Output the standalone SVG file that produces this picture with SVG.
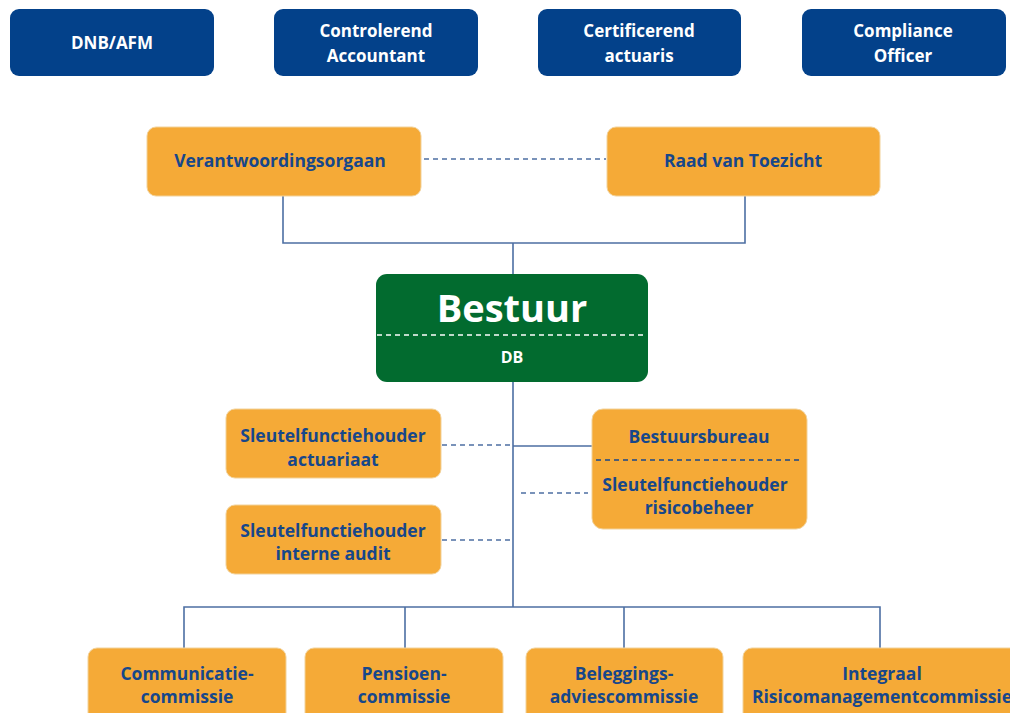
<svg xmlns="http://www.w3.org/2000/svg" width="1010" height="713" viewBox="0 0 1010 713">
<style>
.blue{fill:#03418A}
.org{fill:#F5AA37;stroke:#F2D29A;stroke-width:1}
.green{fill:#026B2F}
text{font-family:"Open Sans","Liberation Sans",sans-serif;font-weight:700;text-anchor:middle}
.wt{fill:#FFFFFF;font-size:17px}
.bt{fill:#17478A;font-size:17.5px}
.c{fill:none;stroke:#4D6FA3;stroke-width:1.6}
.d{fill:none;stroke:#4D6FA3;stroke-width:1.4;stroke-dasharray:5,4}
</style>
<rect width="1010" height="713" fill="#FFFFFF"/>
<g id="connectors">
<path class="c" d="M283 196V243H745V196M513 243V274M513 382V607M184 648V607H880V648M405 607V648M624 607V648M513 446H592"/>
<path class="d" d="M424 159H606M442 445H513M442 540H513M521 493H588"/>
</g>
<g id="dnb"><rect class="blue" x="10" y="9" width="204" height="67" rx="9"/><text class="wt" x="112" y="49">DNB/AFM</text></g>
<g id="accountant"><rect class="blue" x="274" y="9" width="204" height="67" rx="9"/><text class="wt" x="376" y="37">Controlerend</text><text class="wt" x="376" y="62">Accountant</text></g>
<g id="actuaris"><rect class="blue" x="538" y="9" width="203" height="67" rx="9"/><text class="wt" x="639" y="37">Certificerend</text><text class="wt" x="639" y="62">actuaris</text></g>
<g id="compliance"><rect class="blue" x="802" y="9" width="204" height="67" rx="9"/><text class="wt" x="903" y="37">Compliance</text><text class="wt" x="903" y="62">Officer</text></g>
<g id="vo"><rect class="org" x="147" y="127" width="274" height="69" rx="9"/><text class="bt" x="280" y="167">Verantwoordingsorgaan</text></g>
<g id="rvt"><rect class="org" x="607" y="127" width="273" height="69" rx="9"/><text class="bt" x="743" y="167">Raad van Toezicht</text></g>
<g id="bestuur"><rect class="green" x="376" y="274" width="272" height="108" rx="11"/>
<text x="512" y="322" style="fill:#FFFFFF;font-size:38px">Bestuur</text>
<line x1="377" y1="335" x2="647" y2="335" stroke="#FFFFFF" stroke-width="1.4" stroke-dasharray="5,4"/>
<text x="512" y="363" style="fill:#FFFFFF;font-size:16px">DB</text></g>
<g id="sfh-act"><rect class="org" x="226" y="409" width="215" height="69" rx="9"/><text class="bt" x="333" y="442">Sleutelfunctiehouder</text><text class="bt" x="333" y="466">actuariaat</text></g>
<g id="sfh-audit"><rect class="org" x="226" y="505" width="215" height="69" rx="9"/><text class="bt" x="333" y="537">Sleutelfunctiehouder</text><text class="bt" x="333" y="560">interne audit</text></g>
<g id="bureau"><rect class="org" x="592" y="409" width="215" height="120" rx="11"/>
<text class="bt" x="699" y="443">Bestuursbureau</text>
<line x1="596" y1="460" x2="803" y2="460" stroke="#17478A" stroke-width="1.3" stroke-dasharray="5,4"/>
<text class="bt" x="695" y="491">Sleutelfunctiehouder</text><text class="bt" x="699" y="514">risicobeheer</text></g>
<g id="comm"><rect class="org" x="88" y="648" width="198" height="75" rx="9"/><text class="bt" x="187" y="680">Communicatie-</text><text class="bt" x="187" y="703">commissie</text></g>
<g id="pens"><rect class="org" x="305" y="648" width="198" height="75" rx="9"/><text class="bt" x="404" y="680">Pensioen-</text><text class="bt" x="404" y="703">commissie</text></g>
<g id="bel"><rect class="org" x="526" y="648" width="197" height="75" rx="9"/><text class="bt" x="624" y="680">Beleggings-</text><text class="bt" x="624" y="703">adviescommissie</text></g>
<g id="irm"><rect class="org" x="743" y="648" width="280" height="75" rx="9"/><text class="bt" x="882" y="680">Integraal</text><text class="bt" x="882" y="703">Risicomanagementcommissie</text></g>
</svg>
